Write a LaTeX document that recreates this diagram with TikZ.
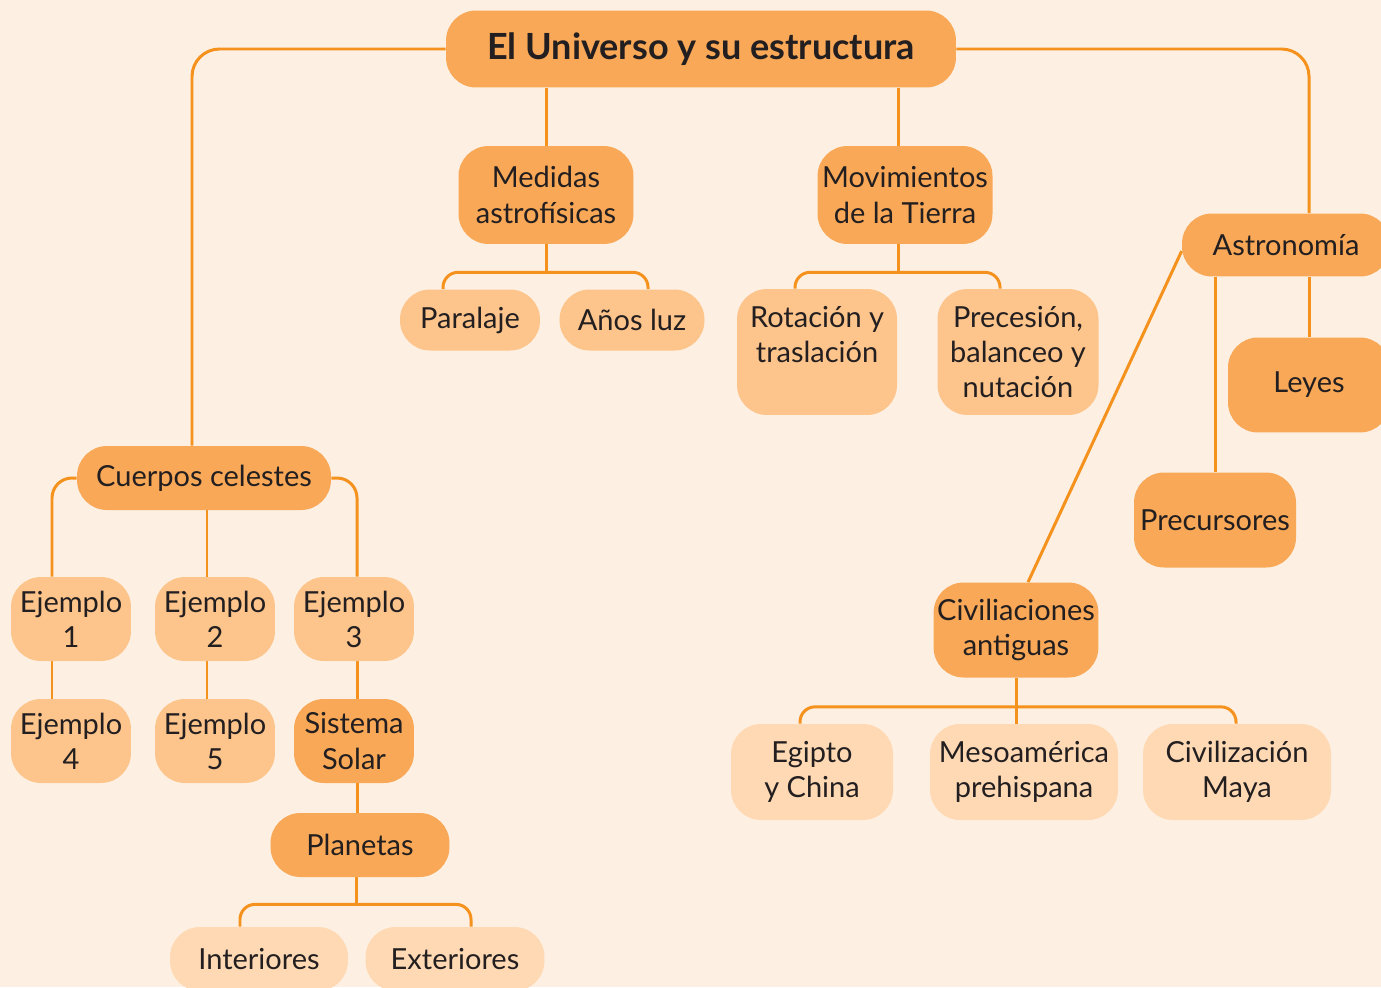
\documentclass[tikz,border=0pt]{standalone}
\usepackage{fontspec}
\setmainfont{Lato}
\usetikzlibrary{calc,backgrounds}
\definecolor{bgcol}{HTML}{FDF0E2}
\definecolor{darkfill}{HTML}{F8A857}
\definecolor{midfill}{HTML}{FDC48B}
\definecolor{lightfill}{HTML}{FED9B4}
\definecolor{linecol}{HTML}{F5921E}
\definecolor{inkcol}{HTML}{231F20}
\tikzset{
  box/.style={rounded corners=0.6cm, inner sep=2pt, align=center, text=inkcol,
    font=\fontsize{16.5}{20}\selectfont},
  dark/.style={box, fill=darkfill},
  mid/.style={box, fill=midfill},
  light/.style={box, fill=lightfill},
  link/.style={draw=linecol, line width=1.7pt, rounded corners=0.3cm},
}
\begin{document}
\begin{tikzpicture}[x=0.02cm, y=-0.02cm]
  \useasboundingbox (0,0) rectangle (1381,987);
  % top
  \node[dark, minimum width=10.2cm, minimum height=1.54cm,
    font=\fontsize{20.5}{24}\selectfont\bfseries] (univ) at (701,49) {El Universo y su estructura};
  \node[dark, minimum width=3.5cm, minimum height=1.96cm] (med) at (546,195) {Medidas\\astrofísicas};
  \node[dark, minimum width=3.5cm, minimum height=1.96cm] (mov) at (905,195) {Movimientos\\de la Tierra};
  \node[mid, minimum width=2.8cm, minimum height=1.22cm] (par) at (470,320) {Paralaje};
  \node[mid, minimum width=2.9cm, minimum height=1.22cm] (anos) at (632,320) {Años luz};
  \node[mid, minimum width=3.2cm, minimum height=2.52cm] (rot) at (817,352) {Rotación y\\traslación\\\mbox{}};
  \node[mid, minimum width=3.22cm, minimum height=2.52cm] (prec) at (1018,352) {Precesión,\\balanceo y\\nutación};
  % astronomia
  \node[dark, minimum width=4.16cm, minimum height=1.26cm] (astro) at (1286,245) {Astronomía};
  \node[dark, minimum width=3.24cm, minimum height=1.9cm] (leyes) at (1309,385) {Leyes};
  \node[dark, minimum width=3.24cm, minimum height=1.9cm] (precur) at (1215,520) {Precursores};
  \node[dark, minimum width=3.24cm, minimum height=1.9cm] (civ) at (1016,630) {Civiliaciones\\antiguas};
  \node[light, minimum width=3.24cm, minimum height=1.92cm] (egi) at (812,772) {Egipto\\y China};
  \node[light, minimum width=3.76cm, minimum height=1.92cm] (meso) at (1024,772) {Mesoamérica\\prehispana};
  \node[light, minimum width=3.76cm, minimum height=1.92cm] (maya) at (1237,772) {Civilización\\Maya};
  % cuerpos celestes
  \node[dark, minimum width=5.08cm, minimum height=1.28cm] (cc) at (204,478) {Cuerpos celestes};
  \node[mid, minimum width=2.4cm, minimum height=1.68cm] (e1) at (71,619) {Ejemplo\\1};
  \node[mid, minimum width=2.4cm, minimum height=1.68cm] (e2) at (215,619) {Ejemplo\\2};
  \node[mid, minimum width=2.4cm, minimum height=1.68cm] (e3) at (354,619) {Ejemplo\\3};
  \node[mid, minimum width=2.4cm, minimum height=1.68cm] (e4) at (71,741) {Ejemplo\\4};
  \node[mid, minimum width=2.4cm, minimum height=1.68cm] (e5) at (215,741) {Ejemplo\\5};
  \node[dark, minimum width=2.4cm, minimum height=1.68cm] (sol) at (354,741) {Sistema\\Solar};
  \node[dark, minimum width=3.58cm, minimum height=1.28cm] (plan) at (360,845) {Planetas};
  \node[light, minimum width=3.56cm, minimum height=1.28cm] (int) at (259,959) {Interiores};
  \node[light, minimum width=3.58cm, minimum height=1.28cm] (ext) at (455,959) {Exteriores};
  \begin{scope}[on background layer]
    \fill[bgcol] (0,0) rectangle (1381,987);
    % from the title
    \draw[link, rounded corners=0.55cm] (univ.west) -| ($(cc.north)+(-12,0)$);
    \draw[link, rounded corners=0.55cm] (univ.east) -| ($(astro.north)+(23,0)$);
    \draw[link] (med.north) -- (med.north |- univ.south);
    \draw[link] ($(mov.north)+(-7,0)$) coordinate (m1) -- (m1 |- univ.south);
    % medidas and movimientos
    \coordinate (mj) at ($(med.south)+(0,28)$);
    \draw[link] (med.south) -- (mj);
    \draw[link] ($(par.north)+(-27,0)$) |- (mj) -| ($(anos.north)+(16,0)$);
    \coordinate (vj) at ($(m1 |- mov.south)+(0,28)$);
    \draw[link] (m1 |- mov.south) -- (vj);
    \draw[link] ($(rot.north)+(-22,0)$) |- (vj) -| ($(prec.north)+(-18,0)$);
    % astronomia
    \draw[link] ($(astro.south)+(23,0)$) -- (leyes.north);
    \draw[link] (precur.north) -- (precur.north |- astro.south);
    \draw[link, rounded corners=0pt] ($(astro.west)+(0,6)$) -- ($(civ.north)+(12,0)$);
    \coordinate (cj) at ($(civ.south)+(0,29)$);
    \draw[link] (civ.south) -- (civ.south |- meso.north);
    \draw[link] ($(egi.north)+(-12,0)$) |- (cj) -| ($(maya.north)+(-1,0)$);
    % cuerpos celestes
    \draw[link, rounded corners=0.4cm] (cc.west) -| ($(e1.north)+(-19,0)$);
    \draw[link, rounded corners=0.4cm] (cc.east) -| ($(e3.north)+(3,0)$);
    \draw[link] ($(cc.south)+(3,0)$) coordinate (c2) -- (c2 |- e2.north);
    \draw[link] ($(e1.south)+(-19,0)$) -- ($(e4.north)+(-19,0)$);
    \draw[link] ($(e2.south)+(-8,0)$) -- ($(e5.north)+(-8,0)$);
    \draw[link] ($(e3.south)+(3,0)$) -- ($(sol.north)+(3,0)$);
    \draw[link] ($(sol.south)+(3,0)$) -- ($(plan.north)+(-3,0)$);
    \coordinate (pj) at ($(plan.south)+(-4,27)$);
    \draw[link] ($(plan.south)+(-4,0)$) -- (pj);
    \draw[link] ($(int.north)+(-19,0)$) |- (pj) -| ($(ext.north)+(16,0)$);
  \end{scope}
\end{tikzpicture}
\end{document}
